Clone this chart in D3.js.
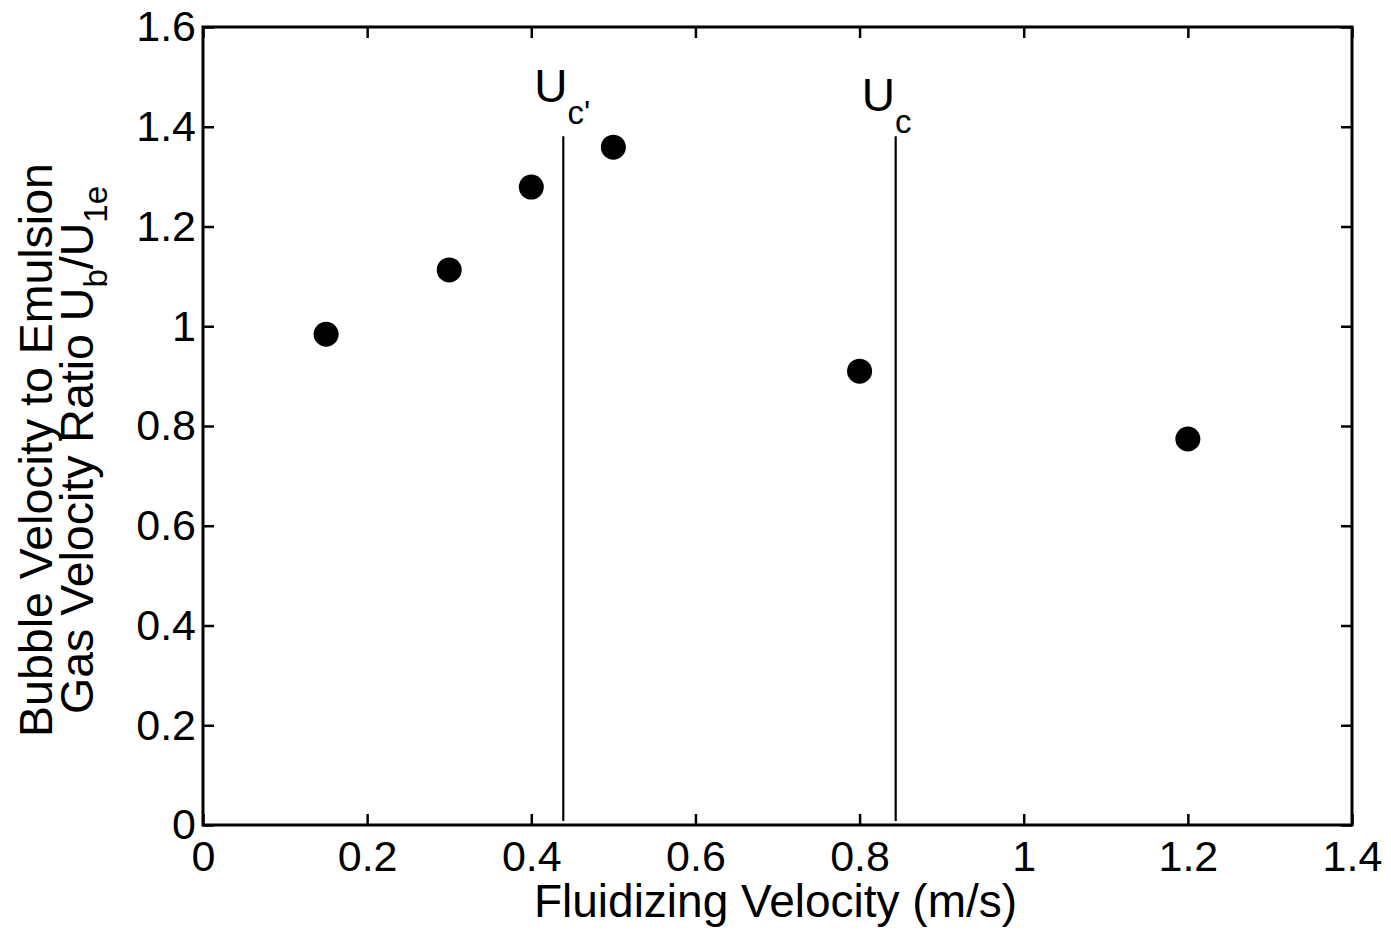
<!DOCTYPE html>
<html>
<head>
<meta charset="utf-8">
<script src="https://cdn.jsdelivr.net/npm/d3@7"></script>
<style>
  body { margin: 0; background: #fff; }
  svg { font-family: "Liberation Sans", Arial, sans-serif; }
  .tick line { stroke: #000; stroke-width: 2.5; }
  .tick text { font-size: 43px; fill: #000; }
</style>
</head>
<body>
<div id="chart"></div>
<script>
// fluidizing velocity (m/s)
var velocity = [0.15, 0.3, 0.4, 0.5, 0.8, 1.2]
// bubble to emulsion gas velocity ratio
var ratio = [0.984, 1.113, 1.279, 1.359, 0.910, 0.774]

// critical velocities (vertical markers)
var markerNames = ["c'", "c"]
var markerX = [0.439, 0.844]
var markerTop = 1.381
var markerBottom = 0.008

var xTicks = [0, 0.2, 0.4, 0.6, 0.8, 1, 1.2, 1.4]
var yTicks = [0, 0.2, 0.4, 0.6, 0.8, 1, 1.2, 1.4, 1.6]

var W = 1391, H = 934
var margin = {top: 27, right: 39, bottom: 109, left: 203}
var width = W - margin.left - margin.right
var height = H - margin.top - margin.bottom

var svg = d3.select("#chart").append("svg")
            .attr("width", W)
            .attr("height", H)
var g = svg.append("g")
           .attr("transform", "translate(" + margin.left + "," + margin.top + ")")

var xScale = d3.scaleLinear().domain([0, 1.4]).range([0, width])
var yScale = d3.scaleLinear().domain([0, 1.6]).range([height, 0])

var fmt = function(d) { return d3.format("~g")(d) }

// axes, ticks pointing inward
g.append("g")
 .attr("class", "x_axis")
 .attr("transform", "translate(0," + height + ")")
 .call(d3.axisBottom(xScale).tickValues(xTicks).tickFormat(fmt)
         .tickSizeInner(-11).tickSizeOuter(0).tickPadding(15))
g.append("g")
 .attr("class", "y_axis")
 .call(d3.axisLeft(yScale).tickValues(yTicks).tickFormat(fmt)
         .tickSizeInner(-11).tickSizeOuter(0).tickPadding(7))
g.append("g")
 .attr("transform", "translate(0,0)")
 .call(d3.axisTop(xScale).tickValues(xTicks).tickFormat("")
         .tickSizeInner(-11).tickSizeOuter(0))
g.append("g")
 .attr("transform", "translate(" + width + ",0)")
 .call(d3.axisRight(yScale).tickValues(yTicks).tickFormat("")
         .tickSizeInner(-11).tickSizeOuter(0))

g.selectAll(".domain").remove()
g.selectAll(".tick text").attr("font-family", null).attr("font-size", null)

// box
g.append("rect")
 .attr("x", 0).attr("y", 0)
 .attr("width", width).attr("height", height)
 .attr("fill", "none")
 .attr("stroke", "#000")
 .attr("stroke-width", 3)

// vertical marker lines
markerX.forEach(function(mx, i) {
  g.append("line")
   .attr("x1", xScale(mx)).attr("x2", xScale(mx))
   .attr("y1", yScale(markerBottom)).attr("y2", yScale(markerTop))
   .attr("stroke", "#000")
   .attr("stroke-width", 2.2)
})

// marker labels U_c' and U_c
var lab = g.selectAll(".mlabel")
           .data(markerX)
           .enter().append("text")
           .attr("class", "mlabel")
           .attr("x", function(d, i) { return xScale(d) - (i == 0 ? 29 : 34) })
           .attr("y", function(d, i) { return yScale(markerTop) - (i == 0 ? 34 : 25) })
           .attr("font-size", 46)
lab.append("tspan").text("U")
lab.append("tspan")
   .attr("dy", 22)
   .attr("font-size", 33)
   .text(function(d, i) { return markerNames[i] })

// data points
g.selectAll(".dot")
 .data(velocity)
 .enter().append("circle")
 .attr("class", "dot")
 .attr("cx", function(d) { return xScale(d) })
 .attr("cy", function(d, i) { return yScale(ratio[i]) })
 .attr("r", 12.5)
 .attr("fill", "#000")

// axis titles
svg.append("text")
   .attr("x", margin.left + width / 2 - 2)
   .attr("y", 917)
   .attr("text-anchor", "middle")
   .attr("font-size", 46)
   .text("Fluidizing Velocity (m/s)")

var yl = svg.append("g")
            .attr("transform", "translate(0,450) rotate(-90)")
yl.append("text")
  .attr("x", 0).attr("y", 52)
  .attr("text-anchor", "middle")
  .attr("font-size", 46.5)
  .text("Bubble Velocity to Emulsion")
var t2 = yl.append("text")
  .attr("x", 0).attr("y", 93)
  .attr("text-anchor", "middle")
  .attr("font-size", 46.5)
t2.append("tspan").text("Gas Velocity Ratio U")
t2.append("tspan").attr("dy", 14).attr("font-size", 33).text("b")
t2.append("tspan").attr("dy", -14).text("/U")
t2.append("tspan").attr("dy", 14).attr("font-size", 33).text("1e")
</script>
</body>
</html>
